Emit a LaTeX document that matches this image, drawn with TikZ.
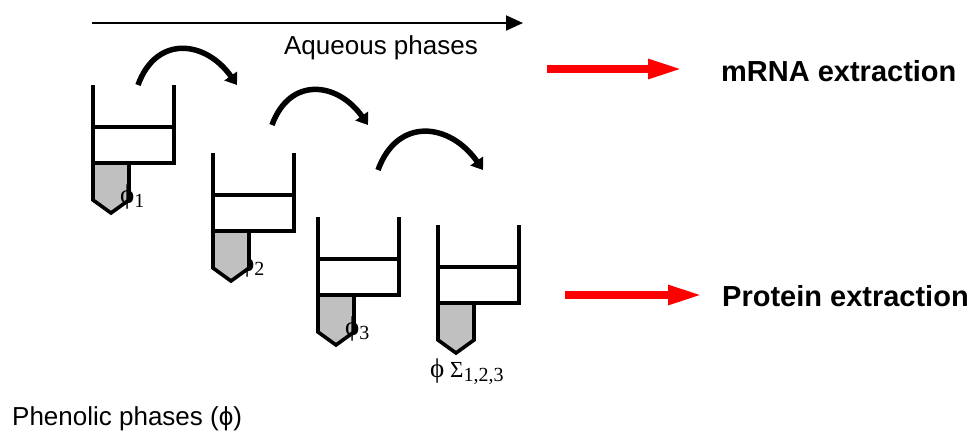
\documentclass[tikz,border=0pt]{standalone}
\usepackage{fontspec}
\setmainfont{Liberation Serif}
\setsansfont{Liberation Sans}
\usetikzlibrary{arrows.meta}
\definecolor{PhaseGrey}{HTML}{C0C0C0}
\definecolor{ExtractRed}{HTML}{FF0000}
\newcommand{\phasephi}{{\fontsize{27}{27}\selectfont ϕ}}
\newcommand{\phasesub}[1]{\raisebox{-4pt}{\fontsize{20}{20}\selectfont #1}}

\begin{document}
\begin{tikzpicture}[x=1pt,y=-1pt,
    tubeline/.style={line width=3.6pt},
    turnarrow/.style={line width=5.5pt,-{Triangle[length=11pt,width=15pt]}},
    redarrow/.style={ExtractRed,line width=8pt,-{Triangle[length=35pt,width=18pt]}},
    phaselabel/.style={anchor=base west,inner sep=0pt,font=\fontsize{23}{24}\selectfont}]
  \useasboundingbox (0,0) rectangle (973,434);

  % aqueous direction
  \coordinate (aqA) at (92,23);
  \coordinate (aqB) at (523,23);
  \draw[line width=2pt,-{Triangle[length=17pt,width=15pt]}] (aqA) -- (aqB);
  \node[font=\sffamily\fontsize{26}{30}\selectfont,inner sep=0pt] (aqueous) at (381,48) {Aqueous phases};

  % second label sits behind its tube
  \node[phaselabel] (phase2) at (240,271) {\phasephi\phasesub{2}};

  \foreach \tx/\ty in {93/85,213/153,318/217,438/225}{
    \filldraw[fill=PhaseGrey,tubeline]
      (\tx,\ty+78) -- (\tx,\ty+115) -- (\tx+18,\ty+128) -- (\tx+36,\ty+115) -- (\tx+36,\ty+78) -- cycle;
    \draw[tubeline] (\tx,\ty) -- (\tx,\ty+78) -- (\tx+81,\ty+78) -- (\tx+81,\ty);
    \draw[tubeline] (\tx,\ty+42) -- (\tx+81,\ty+42);
  }

  \node[phaselabel] (phase1) at (120,203) {\phasephi\phasesub{1}};
  \node[phaselabel] (phase3) at (345,335) {\phasephi\phasesub{3}};
  \node[phaselabel] (phaseall) at (430,377) {\phasephi\ Σ\phasesub{1,2,3}};

  % transfers between tubes
  \foreach \i/\sx/\sy/\ex in {1/138/85/237,2/272/125/368,3/378/170/483}{
    \coordinate (turn\i a) at (\sx,\sy);
    \coordinate (turn\i b) at (\ex,\sy);
    \draw[turnarrow] (turn\i a) to[out=70,in=125,looseness=1.4] (turn\i b);
  }

  % outputs
  \coordinate (mrnaA) at (547,69);
  \coordinate (mrnaB) at (683,69);
  \draw[redarrow] (mrnaA) -- (mrnaB);
  \node[anchor=west,inner sep=0pt,font=\sffamily\bfseries\fontsize{29}{32}\selectfont] (mrna) at (721,71) {mRNA extraction};

  \coordinate (protA) at (565,295);
  \coordinate (protB) at (703,295);
  \draw[redarrow] (protA) -- (protB);
  \node[anchor=west,inner sep=0pt,font=\sffamily\bfseries\fontsize{29}{32}\selectfont] (protein) at (722,296) {Protein extraction};

  \node[anchor=west,inner sep=0pt,font=\sffamily\fontsize{26}{30}\selectfont] (phenolic) at (12,419) {Phenolic phases (ϕ)};
\end{tikzpicture}
\end{document}
